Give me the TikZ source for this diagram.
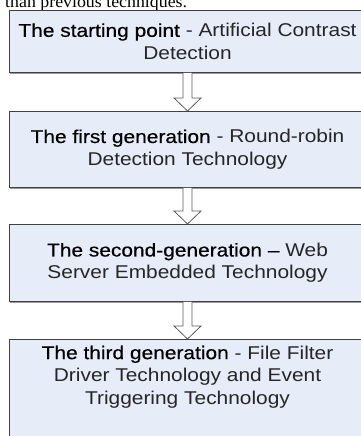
\documentclass[tikz,border=0pt]{standalone}
\usepackage{fontspec}
\setmainfont{Liberation Sans}[FakeStretch=1.13]
\newfontfamily\leadfont{Liberation Sans}[FakeStretch=1.13,FakeBold=0.5]
\newfontfamily\bodyserif{Liberation Serif}[FakeStretch=1.05]
\usetikzlibrary{shadows,calc}

\definecolor{boxfill}{HTML}{E6ECF8}
\definecolor{boxline}{HTML}{404040}
\definecolor{arrowline}{HTML}{5A5A5A}
\definecolor{bodytext}{HTML}{262626}

\tikzset{
  stagetext/.style={align=center, inner sep=0pt,
    font=\fontsize{18.5}{22.5}\selectfont, text=bodytext},
  stagebox/.style={stagetext, draw=boxline, fill=boxfill, line width=0.9pt,
    minimum width=357pt, inner xsep=2pt, anchor=north,
    drop shadow={shadow xshift=1pt, shadow yshift=-1.6pt, fill=black!40, opacity=1}},
  flowarrow/.style={draw=arrowline, fill=white, line width=0.8pt, line join=miter},
}

% highlighted stage name
\newcommand\lead[1]{{\leadfont\color{black}#1}}
% hollow block arrow from the bottom of one stage to the top of the next
\newcommand\stagearrow[2]{%
  \draw[flowarrow] let \p1=(#1.south), \p2=(#2.north) in
    (\x1-4.5pt,\y1) -- (\x1-4.5pt,\y2+13pt) -- (\x1-13.5pt,\y2+13pt) --
    (\x1,\y2) -- (\x1+13.5pt,\y2+13pt) -- (\x1+4.5pt,\y2+13pt) -- (\x1+4.5pt,\y1);}

\begin{document}
\begin{tikzpicture}[x=1pt,y=-1pt]
  \useasboundingbox (0,0) rectangle (361,436);
  \clip (0,0) rectangle (361,436);

  \node[anchor=base west, inner sep=0pt, font=\bodyserif\fontsize{17}{19}\selectfont]
    (leadin) at (5,7.5) {than previous techniques.};

  \node[stagebox, minimum height=62pt] (s0) at (187.5,10)
    {\lead{The starting point} - Artificial Contrast\\Detection};
  \node[stagebox, minimum height=76pt] (s1) at (187.5,111)
    {\lead{The first generation} - Round-robin\\Detection Technology};
  \node[stagebox, minimum height=77pt] (s2) at (187.5,224)
    {\lead{The second-generation –} Web\\Server Embedded Technology};
  % the last stage runs on past the lower edge; its text sits near the top
  \node[stagebox, minimum height=200pt] (s3) at (187.5,339) {};
  \node[stagetext, anchor=north] (s3text) at ($(s3.north)+(0,6.5)$)
    {\lead{The third generation} - File Filter\\Driver Technology and Event\\Triggering Technology};

  \stagearrow{s0}{s1}
  \stagearrow{s1}{s2}
  \stagearrow{s2}{s3}
\end{tikzpicture}
\end{document}
